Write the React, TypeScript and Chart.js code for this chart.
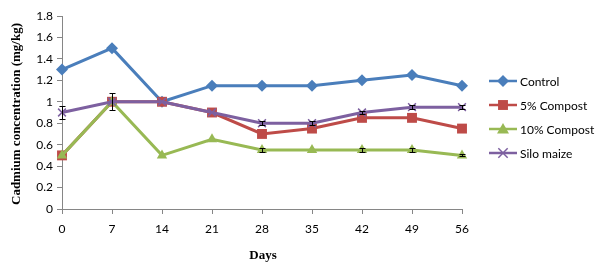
import React, { useEffect, useRef } from 'react';
import { Chart, registerables } from 'chart.js';
Chart.register(...registerables);

const days = ['0', '7', '14', '21', '28', '35', '42', '49', '56'];
const seriesNames = ['Control', '5% Compost', '10% Compost', 'Silo maize'];
const control = [1.3, 1.5, 1.0, 1.15, 1.15, 1.15, 1.2, 1.25, 1.15];
const compost5 = [0.5, 1.0, 1.0, 0.9, 0.7, 0.75, 0.85, 0.85, 0.75];
const compost10 = [0.5, 1.0, 0.5, 0.65, 0.55, 0.55, 0.55, 0.55, 0.5];
const siloMaize = [0.9, 1.0, 1.0, 0.9, 0.8, 0.8, 0.9, 0.95, 0.95];
const controlErr = [0, 0, 0, 0, 0, 0, 0, 0, 0];
const compost5Err = [0, 0, 0, 0, 0, 0, 0, 0, 0];
const compost10Err = [0, 0, 0, 0, 0.02, 0, 0.02, 0.02, 0.01];
const siloErr = [0.06, 0.08, 0, 0, 0.02, 0.02, 0.01, 0.02, 0.02];
const yMin = 0;
const yMax = 1.8;
const yStep = 0.2;

const colors = ['#4A7EBB', '#BE4B48', '#98B954', '#7D60A0'];
const pointStyles = ['rectRot', 'rect', 'triangle', 'crossRot'];
const pointRadii = [6, 7, 6, 5.5];
const values = [control, compost5, compost10, siloMaize];
const errors = [controlErr, compost5Err, compost10Err, siloErr];

function drawMarker(ctx: CanvasRenderingContext2D, style: string, x: number, y: number, r: number, color: string) {
  ctx.save();
  ctx.fillStyle = color;
  ctx.strokeStyle = color;
  ctx.lineWidth = 1.5;
  ctx.beginPath();
  if (style === 'rectRot') {
    ctx.moveTo(x, y - r);
    ctx.lineTo(x + r, y);
    ctx.lineTo(x, y + r);
    ctx.lineTo(x - r, y);
    ctx.closePath();
    ctx.fill();
  } else if (style === 'rect') {
    const s = r * Math.SQRT1_2;
    ctx.rect(x - s, y - s, 2 * s, 2 * s);
    ctx.fill();
  } else if (style === 'triangle') {
    ctx.moveTo(x, y - r);
    ctx.lineTo(x + r, y + r * 0.75);
    ctx.lineTo(x - r, y + r * 0.75);
    ctx.closePath();
    ctx.fill();
  } else {
    const d = r * 0.85;
    ctx.moveTo(x - d, y - d);
    ctx.lineTo(x + d, y + d);
    ctx.moveTo(x + d, y - d);
    ctx.lineTo(x - d, y + d);
    ctx.stroke();
  }
  ctx.restore();
}

const overlayPlugin = {
  id: 'overlay',
  afterDatasetsDraw(chart: any) {
    const ctx: CanvasRenderingContext2D = chart.ctx;
    const xs = chart.scales.x;
    const ys = chart.scales.y;
    ctx.save();
    ctx.strokeStyle = '#000000';
    ctx.lineWidth = 1;
    errors.forEach((errArr, si) => {
      errArr.forEach((e, i) => {
        if (!e) return;
        const x = Math.round(xs.getPixelForValue(i)) + 0.5;
        const yTop = Math.round(ys.getPixelForValue(values[si][i] + e)) + 0.5;
        const yBot = Math.round(ys.getPixelForValue(values[si][i] - e)) + 0.5;
        ctx.beginPath();
        ctx.moveTo(x, yTop);
        ctx.lineTo(x, yBot);
        ctx.moveTo(x - 3, yTop);
        ctx.lineTo(x + 3, yTop);
        ctx.moveTo(x - 3, yBot);
        ctx.lineTo(x + 3, yBot);
        ctx.stroke();
      });
    });
    ctx.restore();
  },
  afterDraw(chart: any) {
    const ctx: CanvasRenderingContext2D = chart.ctx;
    const area = chart.chartArea;
    seriesNames.forEach((name, i) => {
      const y = 81 + 24 * i;
      ctx.save();
      ctx.strokeStyle = colors[i];
      ctx.lineWidth = 2.5;
      ctx.beginPath();
      ctx.moveTo(489, y);
      ctx.lineTo(517, y);
      ctx.stroke();
      ctx.restore();
      drawMarker(ctx, pointStyles[i], 503, y, pointRadii[i], colors[i]);
      ctx.save();
      ctx.fillStyle = '#000000';
      ctx.font = '12px Lato, "Open Sans", sans-serif';
      ctx.textBaseline = 'middle';
      ctx.textAlign = 'left';
      ctx.fillText(name, 520, y + 1);
      ctx.restore();
    });
    ctx.save();
    ctx.fillStyle = '#000000';
    ctx.font = 'bold 13px "Liberation Serif", "Times New Roman", serif';
    ctx.textAlign = 'center';
    ctx.textBaseline = 'middle';
    ctx.fillText('Days', 263, 256);
    ctx.translate(17, 114);
    ctx.rotate(-Math.PI / 2);
    ctx.fillText('Cadmium concentration (mg/kg)', 0, 0);
    ctx.restore();
  },
};

export default function App() {
  const ref = useRef<HTMLCanvasElement>(null);
  useEffect(() => {
    if (!ref.current) return;
    const chart = new Chart(ref.current, {
      type: 'line',
      data: {
        labels: days,
        datasets: seriesNames.map((name, i) => ({
          label: name,
          data: values[i],
          borderColor: colors[i],
          backgroundColor: colors[i],
          pointBackgroundColor: colors[i],
          pointBorderColor: colors[i],
          pointStyle: pointStyles[i] as any,
          pointRadius: pointRadii[i],
          pointBorderWidth: i === 3 ? 1.5 : 0,
          borderWidth: 3,
          tension: 0,
          order: 4 - i,
        })),
      },
      options: {
        animation: false,
        responsive: false,
        devicePixelRatio: 1,
        layout: { padding: { top: 16, right: 138, left: 0, bottom: 0 } },
        plugins: { legend: { display: false }, tooltip: { enabled: false } },
        scales: {
          x: {
            type: 'category',
            offset: false,
            grid: { display: true, drawOnChartArea: false, drawTicks: true, tickLength: 5, color: '#868686' },
            border: { display: true, color: '#868686', width: 1 },
            ticks: { color: '#000000', font: { family: 'Lato, "Open Sans", sans-serif', size: 12 }, padding: 8, maxRotation: 0 },
            afterFit: (s: any) => { s.height = 60; },
          },
          y: {
            min: yMin,
            max: yMax,
            grid: { display: true, drawOnChartArea: false, drawTicks: true, tickLength: 5, color: '#868686' },
            border: { display: true, color: '#868686', width: 1 },
            ticks: {
              stepSize: yStep,
              color: '#000000',
              font: { family: 'Lato, "Open Sans", sans-serif', size: 12 },
              padding: 4,
              callback: (v: any) => String(Math.round(Number(v) * 10) / 10),
            },
            afterFit: (s: any) => { s.width = 62; },
          },
        },
      },
      plugins: [overlayPlugin],
    });
    return () => chart.destroy();
  }, []);
  return (
    <div style={{ position: 'fixed', left: 0, top: 0, width: 600, height: 269, background: '#ffffff' }}>
      <canvas ref={ref} width={600} height={269} style={{ width: 600, height: 269 }} />
    </div>
  );
}
